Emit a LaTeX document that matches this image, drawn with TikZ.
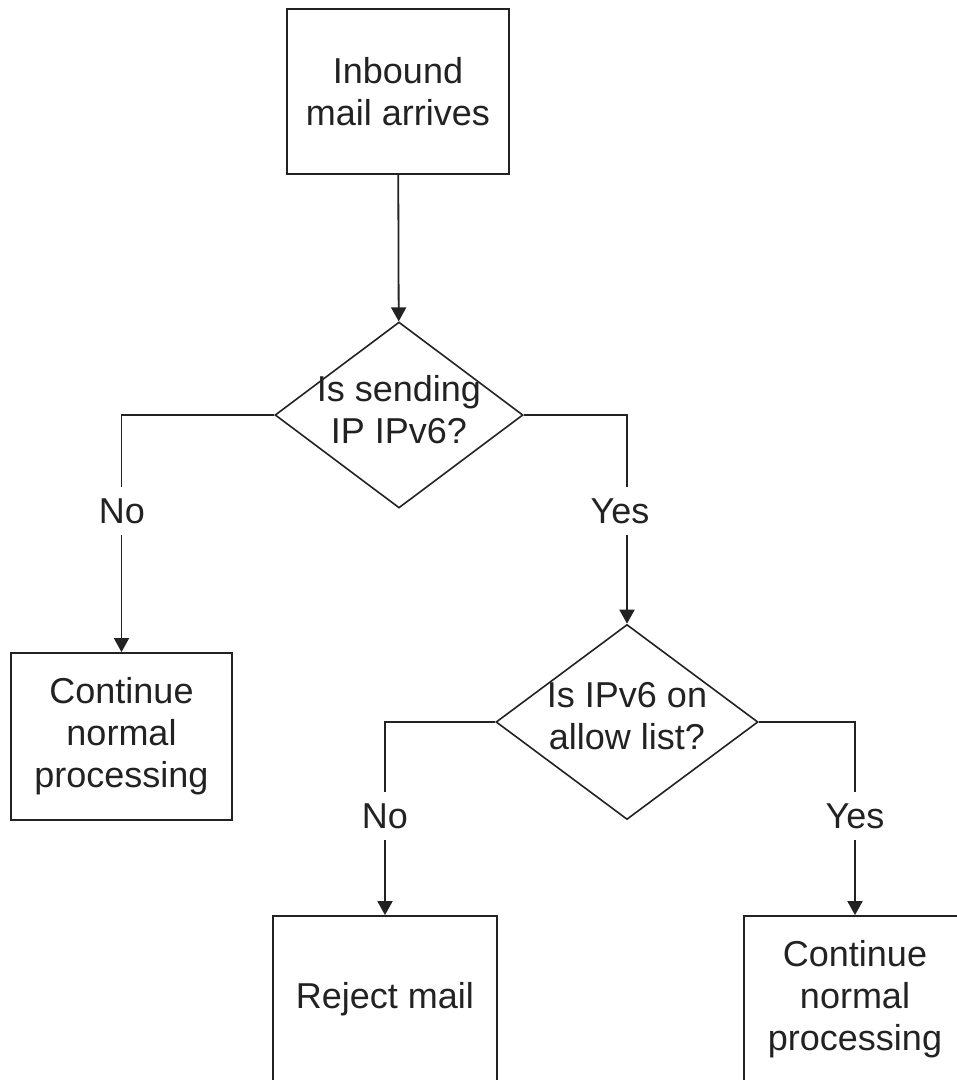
\documentclass[tikz,border=0pt]{standalone}
\usepackage{fontspec}
\setmainfont{Liberation Sans}
\usetikzlibrary{shapes.geometric,arrows.meta}
\definecolor{ink}{HTML}{222222}
\begin{document}
\begin{tikzpicture}[x=1pt,y=-1pt,
  every node/.style={font=\fontsize{36}{42}\selectfont, text=ink},
  procbox/.style={draw=ink, line width=1.8pt, minimum width=222pt,
    minimum height=167pt, align=center, inner sep=0pt},
  decision/.style={diamond, draw=ink, line width=1.6pt, inner sep=0pt},
  flow/.style={draw=ink, line width=1.8pt, -{Triangle[length=14pt,width=15pt]}},
  branch/.style={fill=white, inner xsep=3pt, inner ysep=11pt}]
\clip (0,0) rectangle (957,1080);
\useasboundingbox (0,0) rectangle (957,1080);

% process boxes
\node[procbox, minimum height=165pt] (inbound) at (398,91.5) {Inbound\\mail arrives};
\node[procbox, minimum width=221pt] (cont1) at (121.5,736.5) {Continue\\normal\\processing};
\node[procbox, minimum width=224pt] (reject) at (385,999.5) {Reject mail};
\node[procbox] (cont2) at (855,999.5) {Continue\\normal\\processing};

% decisions
\node[decision, minimum width=248pt, minimum height=186pt,
  label={[align=center, yshift=5pt]center:Is sending\\IP IPv6?}] (ipv6) at (399,415) {};
\node[decision, minimum width=262pt, minimum height=195pt,
  label={[align=center, yshift=6pt]center:Is IPv6 on\\allow list?}] (allow) at (627,722) {};

% connectors
\draw[flow] (inbound) -- (ipv6);
\draw[flow] (ipv6.west) -| (cont1.north);
\draw[flow] (ipv6.east) -| (allow.north);
\draw[flow] (allow.west) -| (reject.north);
\draw[flow] (allow.east) -| (cont2.north);

% branch labels
\node[branch] (no1) at (122,511) {No};
\node[branch] (yes1) at (620,511) {Yes};
\node[branch] (no2) at (385,816) {No};
\node[branch] (yes2) at (855,816) {Yes};
\end{tikzpicture}
\end{document}
